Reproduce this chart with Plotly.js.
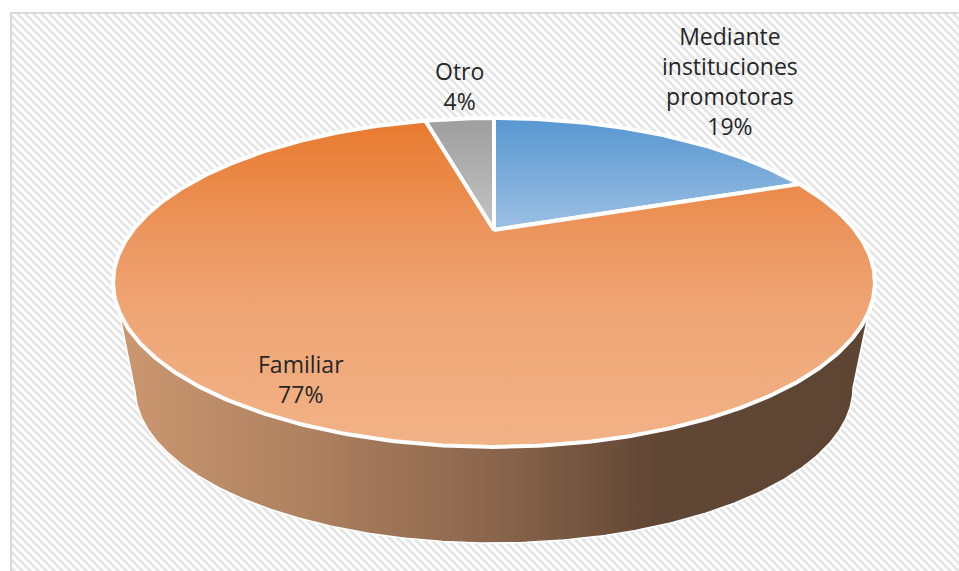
<!DOCTYPE html>
<html><head><meta charset="utf-8">
<script src="https://cdn.plot.ly/plotly-3.0.1.min.js"></script>
<style>
html,body{margin:0;padding:0;background:#fff;width:959px;height:571px;overflow:hidden}
#bg{position:absolute;left:10px;top:12px;width:949px;height:559px;box-sizing:border-box;border-left:2px solid #d9d9d9;border-top:2px solid #d9d9d9;
background:repeating-linear-gradient(45deg,#e6e6e6 0,#e6e6e6 2.9px,#fff 2.9px,#fff 5.66px)}
#chart{position:absolute;left:0;top:0;width:959px;height:571px}
</style></head><body>
<div id="bg"></div><div id="chart"></div>
<script>
const categories = ['Mediante instituciones promotoras', 'Familiar', 'Otro'];
const values = [19.4, 76.6, 4];
const labelLines = [['Mediante','instituciones','promotoras','19%'], ['Familiar','77%'], ['Otro','4%']];
const labelX = [730, 301, 459];
const labelY = [81, 379, 86];
const gradStops = [
  [[0,'#5797d1'],[1,'#9dc0e4']],
  [[0,'#e97a2e'],[0.35,'#ec965f'],[0.6,'#efa676'],[1,'#f2b287']],
  [[0,'#9e9e9e'],[1,'#c4c4c4']]
];
const sideStops = [[0,'#cb9770'],[0.25,'#ae8160'],[0.5,'#8a654c'],[0.72,'#604634'],[1,'#5e4533']];

// pie projection, in axis units equal to pixels
const px = 494, py = 230, A = 361, B = 147.7, K = -0.319;
function project(frac){
  const t = frac * 2 * Math.PI, X = Math.sin(t), Y = -Math.cos(t), d = 1 + K * Y;
  return [px + A * X / d, py + B * Y / d];
}
const traces = [];
// side wall
const baseCy = 388, baseRx = 359, baseRy = 155, wallTop = 316, wallLeft = 120, wallRight = 868;
const wx = [wallLeft], wy = [wallTop];
for (let i = 0; i <= 240; i++) {
  const a = Math.PI * i / 240;
  wx.push(px - baseRx * Math.cos(a)); wy.push(baseCy + baseRy * Math.sin(a));
}
wx.push(wallRight, wallLeft); wy.push(wallTop, wallTop);
traces.push({type:'scatter', mode:'lines', x:wx, y:wy, fill:'toself', hoverinfo:'skip',
  line:{color:'#ffffff', width:1.5},
  fillgradient:{type:'horizontal', start:wallLeft, stop:wallRight, colorscale:sideStops}});
// slices
const total = values.reduce((a,b)=>a+b,0);
let acc = 0;
values.forEach((v,i)=>{
  const x=[px], y=[py], n = Math.max(20, Math.round(v*6));
  for (let j=0;j<=n;j++){ const p = project((acc + v*j/n)/total); x.push(p[0]); y.push(p[1]); }
  x.push(px); y.push(py);
  acc += v;
  traces.push({type:'scatter', mode:'lines', name:categories[i], x, y, fill:'toself', hoverinfo:'skip',
    line:{color:'#ffffff', width:4},
    fillgradient:{type:'vertical', start: Math.min(...y), stop: Math.max(...y), colorscale:gradStops[i]}});
});
const annotations = labelLines.map((l,i)=>({x:labelX[i], y:labelY[i], xref:'x', yref:'y', text:l.join('<br>'),
  showarrow:false, align:'center', font:{family:'"Open Sans", Lato, sans-serif', size:23, color:'#262626'}}));
Plotly.newPlot('chart', traces, {
  width:959, height:571, margin:{l:0,r:0,t:0,b:0}, showlegend:false,
  paper_bgcolor:'rgba(0,0,0,0)', plot_bgcolor:'rgba(0,0,0,0)',
  xaxis:{visible:false, range:[0,959], fixedrange:true},
  yaxis:{visible:false, range:[571,0], fixedrange:true},
  annotations
}, {displayModeBar:false, staticPlot:true});
</script></body></html>
